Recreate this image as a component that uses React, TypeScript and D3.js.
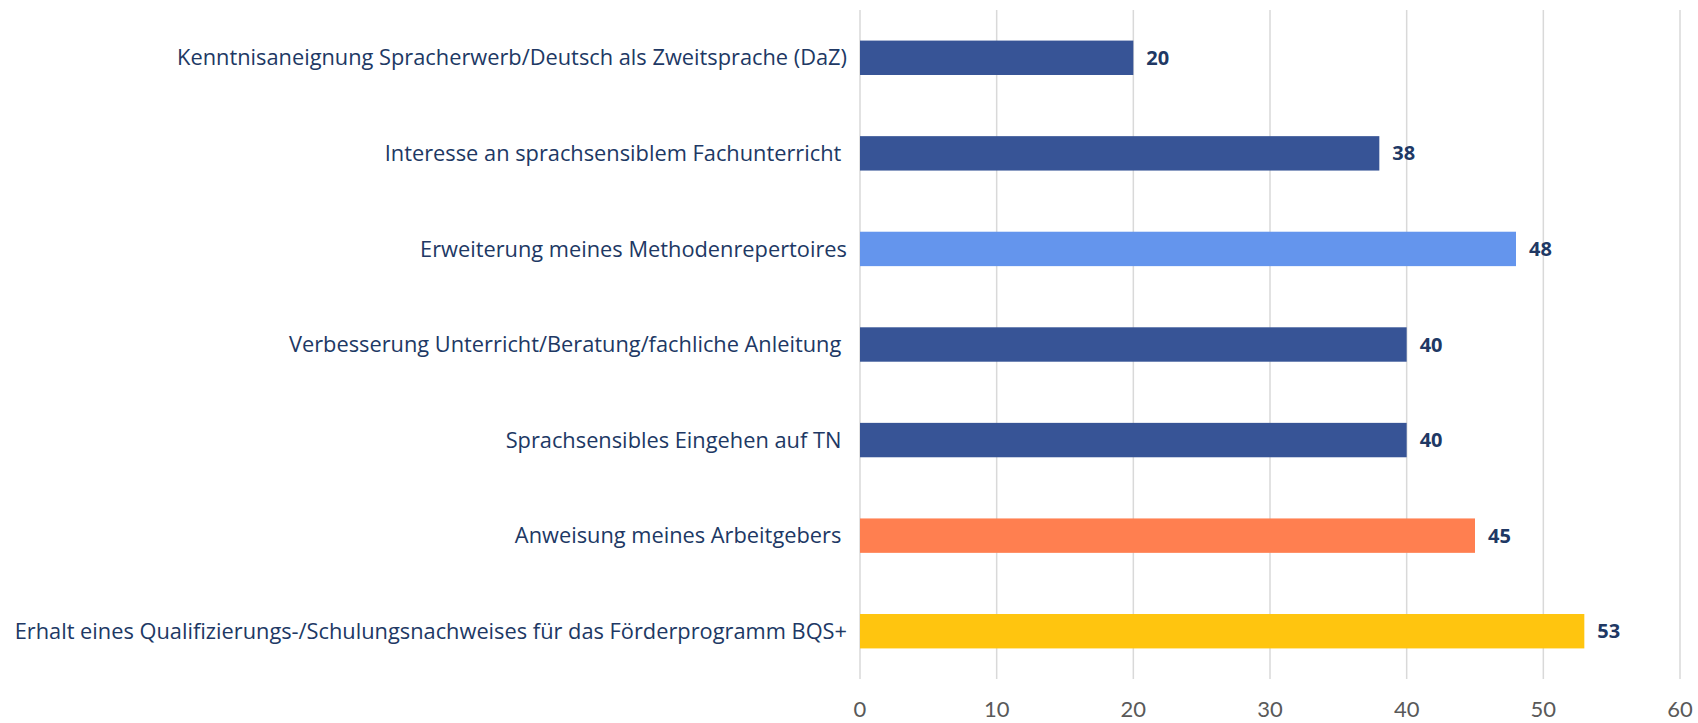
import React from 'react'
import * as d3 from 'd3'

const categories = [
  'Kenntnisaneignung Spracherwerb/Deutsch als Zweitsprache (DaZ)',
  'Interesse an sprachsensiblem Fachunterricht ',
  'Erweiterung meines Methodenrepertoires',
  'Verbesserung Unterricht/Beratung/fachliche Anleitung ',
  'Sprachsensibles Eingehen auf TN ',
  'Anweisung meines Arbeitgebers ',
  'Erhalt eines Qualifizierungs-/Schulungsnachweises für das Förderprogramm BQS+'
]
const values = [20, 38, 48, 40, 40, 45, 53]
const barColors = ['#375496', '#375496', '#6495ED', '#375496', '#375496', '#FF7F50', '#FFC50F']
const xTicks = [0, 10, 20, 30, 40, 50, 60]

// chart frame, in page pixels
const W = 1698
const H = 723
const plot = { left: 860, right: 1680, top: 10, bottom: 679 }

const App = () => {
  const x = d3.scaleLinear().domain([0, 60]).range([plot.left, plot.right])
  const y = d3.scaleBand<string>()
    .domain(categories)
    .range([plot.top, plot.bottom])
    .paddingInner(0.64)
    .paddingOuter(0.32)

  return (
    <svg width={W} height={H} style={{ position: 'absolute', left: 0, top: 0 }}>
      <rect width={W} height={H} fill='#fff' />
      {/* gridlines */}
      {xTicks.map(t => (
        <line key={t} x1={x(t)} x2={x(t)} y1={plot.top} y2={plot.bottom}
          stroke='#d9d9d9' strokeWidth={1.5} />
      ))}
      {/* tick labels */}
      {xTicks.map(t => (
        <text key={'t' + t} x={x(t)} y={717} textAnchor='middle'
          fontFamily='Lato, sans-serif' fontSize={22} fill='#595959'>{t}</text>
      ))}
      {categories.map((c, i) => {
        const yy = y(c)!
        const bh = y.bandwidth()
        return (
          <g key={c}>
            <rect x={x(0)} y={yy} width={x(values[i]) - x(0)} height={bh} fill={barColors[i]} />
            <text x={847} y={yy + bh / 2} dy='0.35em' textAnchor='end'
              style={{ whiteSpace: 'pre' }}
              fontFamily='"Open Sans", sans-serif' fontSize={21.8} fill='#203864'>{c}</text>
            <text x={x(values[i]) + 13} y={yy + bh / 2} dy='0.35em'
              fontFamily='"Open Sans", sans-serif' fontWeight='bold' fontSize={20}
              fill='#203864'>{values[i]}</text>
          </g>
        )
      })}
    </svg>
  )
}

export default App
